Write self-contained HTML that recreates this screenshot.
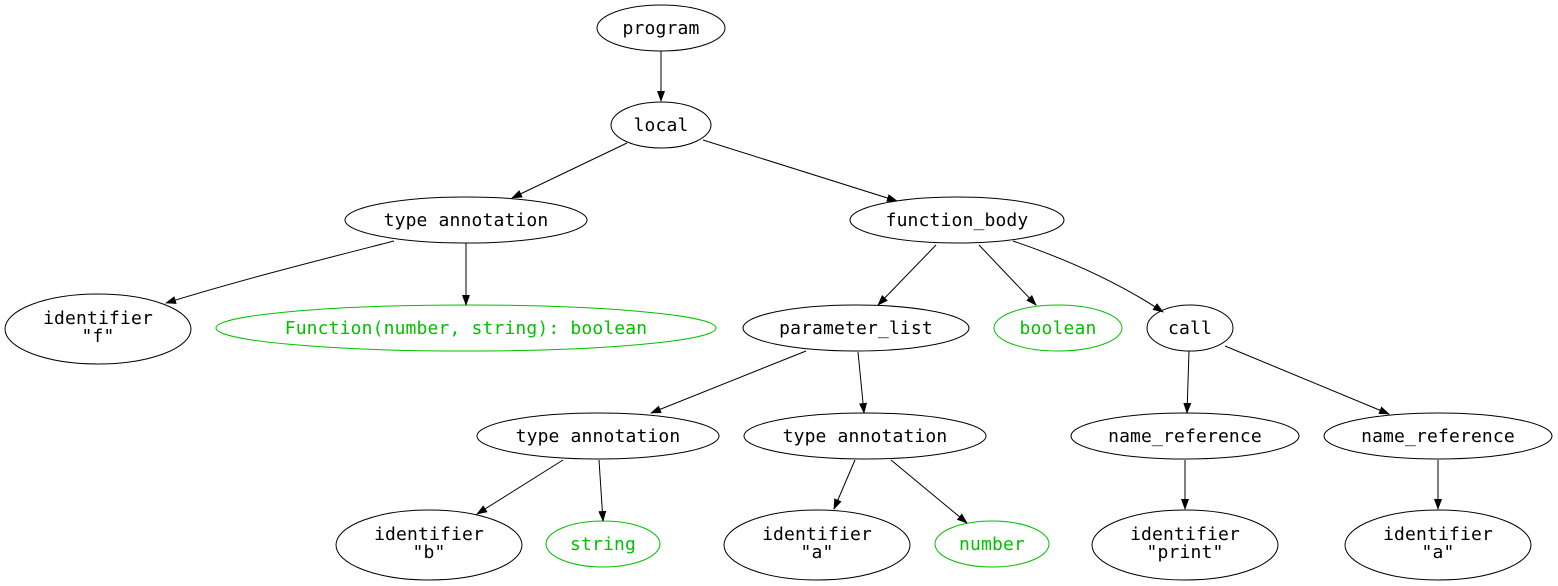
<!DOCTYPE html>
<html><head><meta charset="utf-8"><style>
html,body{margin:0;padding:0;background:#fff;}
svg{display:block;}
text{font-family:"DejaVu Sans Mono","Liberation Mono",monospace;font-size:18px;letter-spacing:0.15px;text-anchor:middle;}
.g{fill:#00c000;}
</style></head><body>
<svg width="1558" height="586" viewBox="0 0 1558 586" xmlns="http://www.w3.org/2000/svg">
<defs><marker id="a" markerWidth="11" markerHeight="8" refX="10" refY="4" orient="auto" markerUnits="userSpaceOnUse"><path d="M0,0 L11,4 L0,8 z" fill="#000"/></marker></defs>
<g fill="none" stroke="#000" stroke-width="1">
<ellipse cx="661" cy="28" rx="64" ry="23"/>
<ellipse cx="661" cy="125" rx="50" ry="23"/>
<ellipse cx="466" cy="220" rx="121" ry="23"/>
<ellipse cx="957" cy="220" rx="107" ry="23"/>
<ellipse cx="98" cy="329" rx="93" ry="35"/>
<ellipse cx="466" cy="328" rx="250" ry="23" stroke="#00c000"/>
<ellipse cx="856" cy="328" rx="113" ry="23"/>
<ellipse cx="1058" cy="328" rx="64" ry="23" stroke="#00c000"/>
<ellipse cx="1190" cy="328" rx="43" ry="23"/>
<ellipse cx="598" cy="436" rx="121" ry="23"/>
<ellipse cx="865" cy="436" rx="121" ry="23"/>
<ellipse cx="1185" cy="436" rx="114" ry="23"/>
<ellipse cx="1438" cy="436" rx="114" ry="23"/>
<ellipse cx="429" cy="545" rx="93" ry="35"/>
<ellipse cx="603" cy="544" rx="57" ry="23" stroke="#00c000"/>
<ellipse cx="817" cy="545" rx="93" ry="35"/>
<ellipse cx="992" cy="544" rx="57" ry="23" stroke="#00c000"/>
<ellipse cx="1185" cy="545" rx="93" ry="35"/>
<ellipse cx="1438" cy="545" rx="93" ry="35"/>
</g>
<g fill="none" stroke="#000" stroke-width="1" marker-end="url(#a)">
<path d="M661,51 L661,101"/>
<path d="M627,143 L512,198"/>
<path d="M703,140 L897,201"/>
<path d="M394,241 C320,260 240,280 166,303"/>
<path d="M466,243 L466,305"/>
<path d="M936,245 L878,305"/>
<path d="M979,245 L1036,305"/>
<path d="M1013,241 C1060,257 1115,280 1163,312"/>
<path d="M806,351 L651,413"/>
<path d="M858,352 L864,413"/>
<path d="M1189,351 L1187,413"/>
<path d="M1225,346 L1389,414"/>
<path d="M563,460 L477,514"/>
<path d="M599,460 L603,521"/>
<path d="M855,460 L834,509"/>
<path d="M891,460 L967,523"/>
<path d="M1185,460 L1185,509"/>
<path d="M1438,460 L1438,509"/>
</g>
<g>
<text x="661" y="34">program</text>
<text x="661" y="131">local</text>
<text x="466" y="226">type annotation</text>
<text x="957" y="226">function_body</text>
<text x="98" y="324">identifier</text><text x="98" y="342">"f"</text>
<text x="466" y="334" class="g">Function(number, string): boolean</text>
<text x="856" y="334">parameter_list</text>
<text x="1058" y="334" class="g">boolean</text>
<text x="1190" y="334">call</text>
<text x="598" y="442">type annotation</text>
<text x="865" y="442">type annotation</text>
<text x="1185" y="442">name_reference</text>
<text x="1438" y="442">name_reference</text>
<text x="429" y="540">identifier</text><text x="429" y="558">"b"</text>
<text x="603" y="550" class="g">string</text>
<text x="817" y="540">identifier</text><text x="817" y="558">"a"</text>
<text x="992" y="550" class="g">number</text>
<text x="1185" y="540">identifier</text><text x="1185" y="558">"print"</text>
<text x="1438" y="540">identifier</text><text x="1438" y="558">"a"</text>
</g>
</svg>
</body></html>
